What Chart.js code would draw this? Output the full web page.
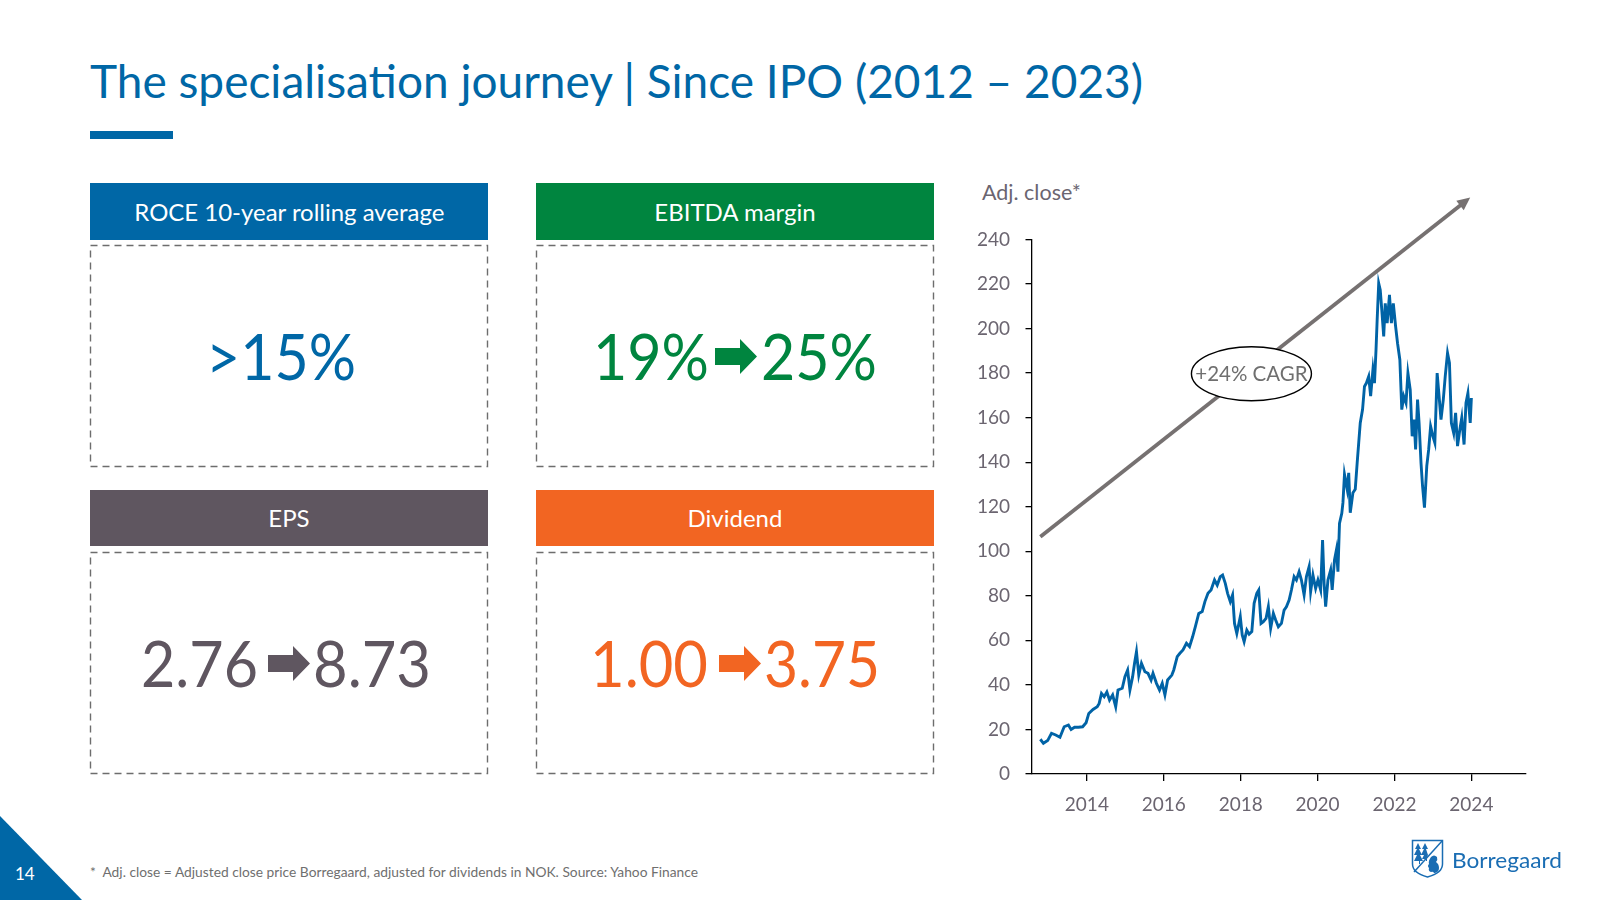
<!DOCTYPE html>
<html>
<head>
<meta charset="utf-8">
<script src="https://cdn.jsdelivr.net/npm/chart.js@4.4.1/dist/chart.umd.min.js"></script>
<style>
  body { margin: 0; background: #fff; }
  #slide { position: relative; width: 1600px; height: 900px; overflow: hidden; background: #fff; font-family: Lato, 'Noto Sans', sans-serif; }
  .abs { position: absolute; }
  .fit { display: inline-block; white-space: nowrap; }
  .title { left: 90px; top: 57px; font-size: 47px; line-height: 47px; color: #0067a6; transform-origin: left center; }
  .bar { left: 90px; top: 131px; width: 83px; height: 8px; background: #0067a6; }
  .head { width: 398px; display: flex; align-items: center; justify-content: center; color: #fff; font-size: 24px; line-height: 24px; }
  .box { display: flex; align-items: center; justify-content: center; width: 398px; height: 222px; }
  .big { font-size: 64px; line-height: 64px; }
  .slot { display: inline-block; overflow: visible; }
  .slot > span { display: inline-block; white-space: nowrap; transform-origin: left center; }
  #chartWrap { left: 950px; top: 170px; width: 590px; height: 670px; }
  .ylabel { left: 982px; top: 181px; font-size: 21.5px; line-height: 22px; color: #6b6570; }
  .note { left: 90px; top: 865px; font-size: 14px; line-height: 14px; color: #6f6f6f; transform-origin: left center; }
  .page { left: 15px; top: 865px; font-size: 17px; line-height: 17px; color: #fff; }
  .logo { left: 1452px; top: 849px; font-size: 22px; line-height: 22px; color: #1a6db3; transform-origin: left center; }
</style>
</head>
<body>
<div id="slide">
  <div class="abs title fit" data-w="1053">The specialisation journey | Since IPO (2012 – 2023)</div>
  <div class="abs bar"></div>

  <div class="abs head" style="left:90px;top:183px;height:57px;background:#0067a6;"><span class="fit" data-w="310" style="transform-origin:center">ROCE 10-year rolling average</span></div>
  <div class="abs head" style="left:536px;top:183px;height:57px;background:#00853f;">EBITDA margin</div>
  <div class="abs head" style="left:90px;top:490px;height:56px;background:#5f5660;">EPS</div>
  <div class="abs head" style="left:536px;top:490px;height:56px;background:#f26522;">Dividend</div>

  <svg class="abs" style="left:0;top:0" width="1000" height="800">
    <g fill="none" stroke="#6d6d6d" stroke-width="1.4" stroke-dasharray="7 5">
      <rect x="90.5" y="245.5" width="397" height="221"/>
      <rect x="536.5" y="245.5" width="397" height="221"/>
      <rect x="90.5" y="552.5" width="397" height="221"/>
      <rect x="536.5" y="552.5" width="397" height="221"/>
    </g>
  </svg>

  <div class="abs box big" style="left:90px;top:245px;color:#0067a6;padding-right:17px;box-sizing:border-box;">
    <span class="slot" style="width:150px"><span data-w="150">&gt;15%</span></span>
  </div>
  <div class="abs box big" style="left:536px;top:245px;color:#00853f;">
    <span class="slot" style="width:116px"><span data-w="116">19%</span></span>
    <svg width="42" height="35" style="margin:0 4px 0 6px"><polygon points="0,9 25,9 25,0 42,17.5 25,35 25,26 0,26" fill="#00853f"/></svg>
    <span class="slot" style="width:116px"><span data-w="116">25%</span></span>
  </div>
  <div class="abs box big" style="left:90px;top:552px;color:#5f5660;padding-right:7px;box-sizing:border-box;">
    <span class="slot" style="width:117px"><span data-w="117">2.76</span></span>
    <svg width="42" height="35" style="margin:0 3px 0 10px"><polygon points="0,9 25,9 25,0 42,17.5 25,35 25,26 0,26" fill="#5f5660"/></svg>
    <span class="slot" style="width:118px"><span data-w="118">8.73</span></span>
  </div>
  <div class="abs box big" style="left:536px;top:552px;color:#f26522;">
    <span class="slot" style="width:118px"><span data-w="118">1.00</span></span>
    <svg width="42" height="35" style="margin:0 3px 0 11px"><polygon points="0,9 25,9 25,0 42,17.5 25,35 25,26 0,26" fill="#f26522"/></svg>
    <span class="slot" style="width:116px"><span data-w="116">3.75</span></span>
  </div>

  <div class="abs ylabel">Adj. close*</div>
  <div id="chartWrap" class="abs"><canvas id="priceChart" width="590" height="670"></canvas></div>

  <svg class="abs" style="left:0;top:816px" width="84" height="84"><polygon points="0,0 82,84 0,84" fill="#0067a6"/></svg>
  <div class="abs page">14</div>
  <div class="abs note fit" data-w="608">*&nbsp; Adj. close = Adjusted close price Borregaard, adjusted for dividends in NOK. Source: Yahoo Finance</div>

  <svg class="abs" style="left:1411px;top:839px" width="34" height="40">
    <g fill="none" stroke="#1a6db3" stroke-width="1.5">
      <path d="M1.5,1.5 H31.5 V25 Q31.5,34 16.5,38 Q1.5,34 1.5,25 Z"/>
      <path d="M31.5,1.5 L3,33"/>
    </g>
    <g fill="#1a6db3">
      <polygon points="7,4 4,10 6,10 3,16 6,16 3,22 8,22 8,25 9,25 9,22 12,22 9,16 11,16 8,10 10,10"/>
      <polygon points="14,4 11,10 13,10 10,16 13,16 11,20 15,20 15,22 16,22 16,18 17,16 15,10 17,10"/>
      <path d="M20,18 q3,-3 6,0 q1,3 -1,5 q3,2 3,6 q0,4 -4,5 l-1,0 q-1,-2 -3,-1 q-3,-1 -2,-4 q-2,-2 0,-4 q-1,-3 2,-7 z"/>
    </g>
  </svg>
  <div class="abs logo fit" data-w="110">Borregaard</div>
</div>

<script>
// Adjusted close (NOK); x in decimal years
const priceYears = [
  2012.79, 2012.87, 2012.98, 2013.08, 2013.19, 2013.30, 2013.41, 2013.52, 2013.59, 2013.68,
  2013.78, 2013.89, 2013.98, 2014.05, 2014.16, 2014.27, 2014.32, 2014.38, 2014.45, 2014.52,
  2014.59, 2014.67, 2014.75, 2014.81, 2014.92, 2014.99, 2015.06, 2015.12, 2015.19, 2015.24,
  2015.29, 2015.35, 2015.42, 2015.51, 2015.59, 2015.67, 2015.72, 2015.81, 2015.89, 2015.96,
  2016.03, 2016.10, 2016.21, 2016.26, 2016.35, 2016.42, 2016.50, 2016.59, 2016.67, 2016.75,
  2016.82, 2016.91, 2017.00, 2017.07, 2017.15, 2017.23, 2017.32, 2017.39, 2017.47, 2017.53,
  2017.60, 2017.66, 2017.73, 2017.79, 2017.84, 2017.90, 2017.99, 2018.04, 2018.09, 2018.16,
  2018.22, 2018.29, 2018.35, 2018.42, 2018.47, 2018.53, 2018.59, 2018.66, 2018.72, 2018.78,
  2018.85, 2018.91, 2018.98, 2019.06, 2019.13, 2019.19, 2019.26, 2019.32, 2019.39, 2019.45,
  2019.52, 2019.58, 2019.65, 2019.71, 2019.78, 2019.82, 2019.88, 2019.95, 2020.01, 2020.08,
  2020.13, 2020.17, 2020.21, 2020.27, 2020.34, 2020.38, 2020.44, 2020.49, 2020.53, 2020.57,
  2020.63, 2020.66, 2020.70, 2020.77, 2020.81, 2020.85, 2020.92, 2020.98, 2021.03, 2021.07,
  2021.11, 2021.17, 2021.22, 2021.27, 2021.33, 2021.38, 2021.44, 2021.48, 2021.52, 2021.55,
  2021.59, 2021.63, 2021.67, 2021.72, 2021.76, 2021.81, 2021.87, 2021.92, 2021.97, 2022.03,
  2022.08, 2022.14, 2022.19, 2022.24, 2022.30, 2022.35, 2022.41, 2022.46, 2022.51, 2022.55,
  2022.60, 2022.64, 2022.69, 2022.73, 2022.78, 2022.84, 2022.89, 2022.94, 2023.00, 2023.05,
  2023.11, 2023.16, 2023.21, 2023.27, 2023.32, 2023.38, 2023.43, 2023.48, 2023.54, 2023.59,
  2023.64, 2023.70, 2023.75, 2023.81, 2023.86, 2023.91, 2023.97, 2024.00
];
const priceValues = [
  15.6, 13.8, 15.0, 18.3, 17.5, 16.5, 21.2, 22.0, 20.0, 21.0,
  21.0, 21.2, 23.0, 27.2, 29.0, 30.2, 31.7, 36.2, 34.7, 36.8,
  33.2, 35.5, 30.2, 37.7, 38.5, 43.7, 46.7, 37.7, 43.7, 49.7,
  54.9, 44.4, 49.7, 45.9, 45.2, 42.2, 45.2, 40.7, 37.7, 40.7,
  35.5, 42.2, 44.4, 46.7, 52.7, 54.2, 55.7, 58.7, 57.2, 61.6,
  66.1, 72.1, 72.9, 77.4, 81.1, 82.6, 87.1, 84.8, 88.6, 89.3,
  85.6, 81.1, 77.4, 80.4, 67.6, 63.1, 70.6, 62.4, 59.4, 64.6,
  62.8, 63.9, 76.6, 81.1, 82.6, 67.6, 68.4, 69.9, 75.1, 65.4,
  72.1, 69.1, 66.1, 67.6, 73.6, 75.1, 78.1, 82.6, 88.6, 87.1,
  90.8, 87.1, 80.4, 88.6, 93.1, 81.9, 89.3, 83.3, 87.1, 82.6,
  105.0, 85.6, 75.1, 87.1, 91.6, 82.6, 96.1, 100.6, 90.8, 112.5,
  117.0, 121.8, 134.5, 127.8, 135.2, 117.3, 126.3, 127.8, 139.7, 148.7,
  157.6, 163.6, 174.0, 175.5, 178.5, 169.6, 181.5, 175.5, 190.4, 203.9,
  220.3, 217.3, 208.4, 196.4, 211.3, 202.4, 215.1, 202.4, 211.3, 200.9,
  193.4, 186.0, 163.6, 169.6, 166.6, 180.0, 172.5, 151.6, 159.1, 145.7,
  168.1, 157.6, 139.7, 129.3, 119.6, 138.2, 145.7, 156.1, 151.6, 148.7,
  180.0, 169.6, 159.1, 168.1, 178.5, 189.0, 184.5, 157.6, 153.1, 162.1,
  147.2, 154.6, 159.9, 147.9, 166.6, 171.0, 157.6, 168.8
];
const xTickYears = [2014, 2016, 2018, 2020, 2022, 2024];
const yTickValues = [0, 20, 40, 60, 80, 100, 120, 140, 160, 180, 200, 220, 240];

// trend arrow and label, in data units
const trendStart = { x: 2012.79, y: 106.5 };
const trendEnd = { x: 2023.97, y: 258.8 };
const cagrLabel = { x: 2018.28, y: 179.7, text: '+24% CAGR' };

const axisGrey = '#6b6570';

const trendPlugin = {
    id: 'trendArrow',
    afterDraw(chart) {
        const { ctx, scales: { x, y } } = chart;
        const x0 = x.getPixelForValue(trendStart.x), y0 = y.getPixelForValue(trendStart.y);
        const x1 = x.getPixelForValue(trendEnd.x), y1 = y.getPixelForValue(trendEnd.y);
        const ang = Math.atan2(y1 - y0, x1 - x0);
        const head = 13;
        ctx.save();
        ctx.strokeStyle = '#767171';
        ctx.fillStyle = '#767171';
        ctx.lineWidth = 3.8;
        ctx.beginPath();
        ctx.moveTo(x0, y0);
        ctx.lineTo(x1 - Math.cos(ang) * head * 0.8, y1 - Math.sin(ang) * head * 0.8);
        ctx.stroke();
        ctx.beginPath();
        ctx.moveTo(x1, y1);
        ctx.lineTo(x1 - head * Math.cos(ang) + 6 * Math.sin(ang), y1 - head * Math.sin(ang) - 6 * Math.cos(ang));
        ctx.lineTo(x1 - head * Math.cos(ang) - 6 * Math.sin(ang), y1 - head * Math.sin(ang) + 6 * Math.cos(ang));
        ctx.closePath();
        ctx.fill();

        const cx = x.getPixelForValue(cagrLabel.x), cy = y.getPixelForValue(cagrLabel.y);
        ctx.beginPath();
        ctx.ellipse(cx, cy, 60, 27, 0, 0, Math.PI * 2);
        ctx.fillStyle = '#fff';
        ctx.fill();
        ctx.lineWidth = 1.4;
        ctx.strokeStyle = '#000';
        ctx.stroke();
        ctx.fillStyle = '#6f6f6f';
        ctx.font = '20.5px Lato';
        ctx.textAlign = 'center';
        ctx.textBaseline = 'middle';
        ctx.fillText(cagrLabel.text, cx, cy + 1);
        ctx.restore();
    }
};

const ctx = document.getElementById('priceChart').getContext('2d');
new Chart(ctx, {
    type: 'line',
    data: {
        datasets: [{
            label: 'Adj. close',
            data: priceYears.map((yr, i) => ({ x: yr, y: priceValues[i] })),
            borderColor: '#0063a6',
            borderWidth: 2.9,
            pointRadius: 0,
            tension: 0,
            fill: false
        }]
    },
    options: {
        responsive: false,
        animation: false,
        devicePixelRatio: 1,
        layout: { padding: { top: 69.4, right: 14.8, bottom: 0, left: 0 } },
        plugins: { legend: { display: false }, tooltip: { enabled: false } },
        scales: {
            x: {
                type: 'linear',
                min: 2012.56,
                max: 2025.40,
                afterBuildTicks: scale => { scale.ticks = xTickYears.map(v => ({ value: v })); },
                afterFit: scale => { scale.height = 66; },
                ticks: {
                    callback: v => String(v),
                    color: axisGrey,
                    font: { family: 'Lato', size: 19 },
                    padding: 12,
                    maxRotation: 0,
                    autoSkip: false
                },
                grid: { drawOnChartArea: false, drawTicks: true, tickLength: 7, color: '#000', lineWidth: 1.3 },
                border: { display: true, color: '#000', width: 1.3 }
            },
            y: {
                min: 0,
                max: 240,
                afterBuildTicks: scale => { scale.ticks = yTickValues.map(v => ({ value: v })); },
                afterFit: scale => { scale.width = 81.5; },
                ticks: {
                    color: axisGrey,
                    font: { family: 'Lato', size: 19 },
                    padding: 15.5
                },
                grid: { drawOnChartArea: false, drawTicks: true, tickLength: 6, color: '#000', lineWidth: 1.3 },
                border: { display: true, color: '#000', width: 1.3 }
            }
        }
    },
    plugins: [trendPlugin]
});

// squeeze text to the widths seen on the slide (narrower original typeface)
document.fonts.ready.then(() => {
    document.querySelectorAll('[data-w]').forEach(el => {
        const w = el.getBoundingClientRect().width;
        if (w > 0) el.style.transform = 'scaleX(' + (el.dataset.w / w) + ')';
    });
});
</script>
</body>
</html>
